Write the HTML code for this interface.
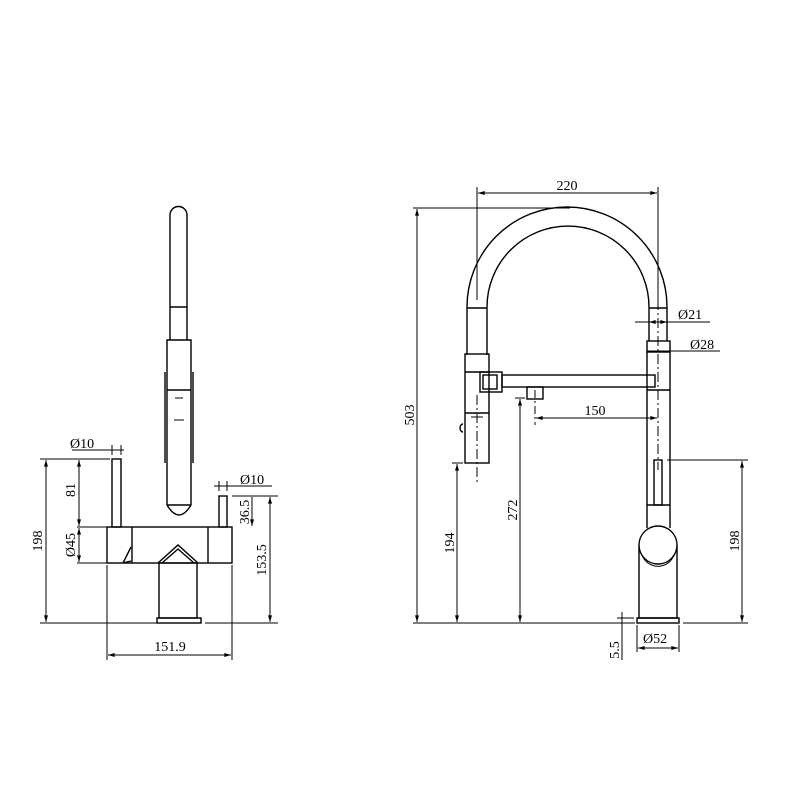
<!DOCTYPE html>
<html><head><meta charset="utf-8"><style>
html,body{margin:0;padding:0;background:#fff;}
svg{display:block;}
text{font-family:"Liberation Serif",serif;font-size:14px;fill:#000;}
</style></head><body>
<svg width="804" height="803" viewBox="0 0 804 803" xmlns="http://www.w3.org/2000/svg">
<defs><marker id="a" viewBox="0 0 10 6" refX="10" refY="3" markerWidth="8" markerHeight="4" orient="auto-start-reverse"><path d="M0,0L10,3L0,6z" fill="#000"/></marker></defs>
<g fill="none" stroke="#000" stroke-width="1.4">
<!-- LEFT VIEW -->
<path d="M170,340 V215 A8.5,8.5 0 0 1 187,215 V340"/>
<line x1="170" y1="307" x2="187" y2="307"/>
<path d="M167,340 H191 V505 Q179,525 167,505 Z"/>
<line x1="167" y1="505" x2="191" y2="505"/>
<line x1="165" y1="372" x2="165" y2="463"/><line x1="193" y1="372" x2="193" y2="463"/>
<line x1="167" y1="390" x2="191" y2="390"/>
<line x1="175" y1="398" x2="183" y2="398" stroke-width="1"/><line x1="174" y1="420" x2="184" y2="420" stroke-width="1"/>
<rect x="107" y="527" width="125" height="36"/>
<line x1="132" y1="527" x2="132" y2="563"/><line x1="208" y1="527" x2="208" y2="563"/>
<line x1="131" y1="547" x2="123" y2="563"/><line x1="123" y1="563" x2="131" y2="561"/>
<rect x="112" y="459" width="9" height="68"/>
<rect x="219" y="496" width="8" height="31"/>
<path d="M158,563 L178,545 L198,563"/><path d="M162,563 L178,549 L194,563"/>
<rect x="159" y="563" width="38" height="55"/>
<rect x="157" y="618" width="44" height="5"/>
<g stroke-width="1">
<line x1="40" y1="623" x2="157" y2="623"/><line x1="205" y1="623" x2="278" y2="623"/>
<line x1="40" y1="459" x2="110" y2="459"/>
<line x1="46" y1="460" x2="46" y2="622" marker-start="url(#a)" marker-end="url(#a)"/>
<line x1="79" y1="460" x2="79" y2="526" marker-start="url(#a)" marker-end="url(#a)"/>
<line x1="77" y1="527" x2="107" y2="527"/><line x1="77" y1="563" x2="107" y2="563"/>
<line x1="79" y1="528" x2="79" y2="562" marker-start="url(#a)" marker-end="url(#a)"/>
<line x1="72" y1="450" x2="124" y2="450"/><line x1="112" y1="445" x2="112" y2="455"/><line x1="121" y1="445" x2="121" y2="455"/>
<line x1="214" y1="486" x2="272" y2="486"/><line x1="219" y1="481" x2="219" y2="491"/><line x1="227" y1="481" x2="227" y2="491"/>
<line x1="232" y1="496" x2="278" y2="496"/>
<line x1="252" y1="497" x2="252" y2="526" marker-end="url(#a)"/>
<line x1="270" y1="497" x2="270" y2="622" marker-start="url(#a)" marker-end="url(#a)"/>
<line x1="107" y1="565" x2="107" y2="660"/><line x1="232" y1="565" x2="232" y2="660"/>
<line x1="108" y1="655" x2="231" y2="655" marker-start="url(#a)" marker-end="url(#a)"/>
</g>
<!-- RIGHT VIEW -->
<path d="M467,355 V307 A100,100 0 0 1 667,307 V341"/>
<path d="M487,355 V307 A80,80 0 0 1 649,307 V341"/>
<line x1="467" y1="308" x2="487" y2="308"/><line x1="649" y1="308" x2="667" y2="308"/>
<rect x="465" y="354" width="24" height="109"/>
<line x1="465" y1="372" x2="489" y2="372"/><line x1="465" y1="413" x2="489" y2="413"/>
<rect x="480" y="372" width="22" height="20"/><rect x="483" y="375" width="14" height="14"/>
<rect x="502" y="375" width="153" height="12"/>
<rect x="527" y="387" width="16" height="12"/>
<path d="M463,424 A3,4 0 0 0 463,432"/>
<rect x="647" y="341" width="23" height="11"/>
<line x1="647" y1="352" x2="647" y2="528"/><line x1="670" y1="352" x2="670" y2="528"/>
<line x1="647" y1="390" x2="670" y2="390"/><line x1="647" y1="505" x2="670" y2="505"/>
<rect x="654" y="460" width="8" height="45"/>
<path d="M639,545 V618 H677 V545"/>
<circle cx="658" cy="545" r="19" fill="#fff"/>
<path d="M642,555 A17,17 0 0 0 674,555" stroke-width="1"/>
<rect x="637" y="618" width="42" height="5"/>
<g stroke-width="1">
<line x1="413" y1="623" x2="635" y2="623"/><line x1="683" y1="623" x2="748" y2="623"/>
<line x1="477" y1="187" x2="477" y2="300"/><line x1="658" y1="187" x2="658" y2="300"/>
<line x1="478" y1="193" x2="657" y2="193" marker-start="url(#a)" marker-end="url(#a)"/>
<line x1="413" y1="208" x2="570" y2="208"/>
<line x1="417" y1="209" x2="417" y2="622" marker-start="url(#a)" marker-end="url(#a)"/>
<line x1="477" y1="395" x2="477" y2="483" stroke-dasharray="10,3,2,3"/>
<line x1="471" y1="417" x2="483" y2="417"/>
<line x1="658" y1="300" x2="658" y2="470" stroke-dasharray="10,3,2,3"/>
<line x1="535" y1="390" x2="535" y2="425" stroke-dasharray="8,3,2,3"/>
<line x1="452" y1="463" x2="463" y2="463"/>
<line x1="457" y1="464" x2="457" y2="622" marker-start="url(#a)" marker-end="url(#a)"/>
<line x1="515" y1="398" x2="525" y2="398"/>
<line x1="520" y1="399" x2="520" y2="622" marker-start="url(#a)" marker-end="url(#a)"/>
<line x1="536" y1="418" x2="657" y2="418" marker-start="url(#a)" marker-end="url(#a)"/>
<line x1="635" y1="322" x2="710" y2="322"/><line x1="649" y1="322" x2="667" y2="322" marker-start="url(#a)" marker-end="url(#a)"/>
<line x1="647" y1="351" x2="720" y2="351"/>
<line x1="667" y1="460" x2="748" y2="460"/>
<line x1="742" y1="461" x2="742" y2="622" marker-start="url(#a)" marker-end="url(#a)"/>
<line x1="622" y1="612" x2="622" y2="660"/><line x1="617" y1="618" x2="634" y2="618"/>
<line x1="637" y1="625" x2="637" y2="652"/><line x1="679" y1="625" x2="679" y2="652"/>
<line x1="638" y1="648" x2="678" y2="648" marker-start="url(#a)" marker-end="url(#a)"/>
</g>
</g>
<!-- text -->
<text x="70" y="448">Ø10</text>
<text x="240" y="484">Ø10</text>
<text transform="translate(75,490) rotate(-90)" text-anchor="middle">81</text>
<text transform="translate(75,545) rotate(-90)" text-anchor="middle">Ø45</text>
<text transform="translate(42,541) rotate(-90)" text-anchor="middle">198</text>
<text transform="translate(249,512) rotate(-90)" text-anchor="middle">36.5</text>
<text transform="translate(266,560) rotate(-90)" text-anchor="middle">153.5</text>
<text x="170" y="651" text-anchor="middle">151.9</text>
<text x="567" y="190" text-anchor="middle">220</text>
<text transform="translate(414,415) rotate(-90)" text-anchor="middle">503</text>
<text x="678" y="319">Ø21</text>
<text x="690" y="349">Ø28</text>
<text x="595" y="415" text-anchor="middle">150</text>
<text transform="translate(454,543) rotate(-90)" text-anchor="middle">194</text>
<text transform="translate(517,510) rotate(-90)" text-anchor="middle">272</text>
<text transform="translate(739,541) rotate(-90)" text-anchor="middle">198</text>
<text transform="translate(619,650) rotate(-90)" text-anchor="middle">5.5</text>
<text x="643" y="643">Ø52</text>
</svg>
</body></html>
